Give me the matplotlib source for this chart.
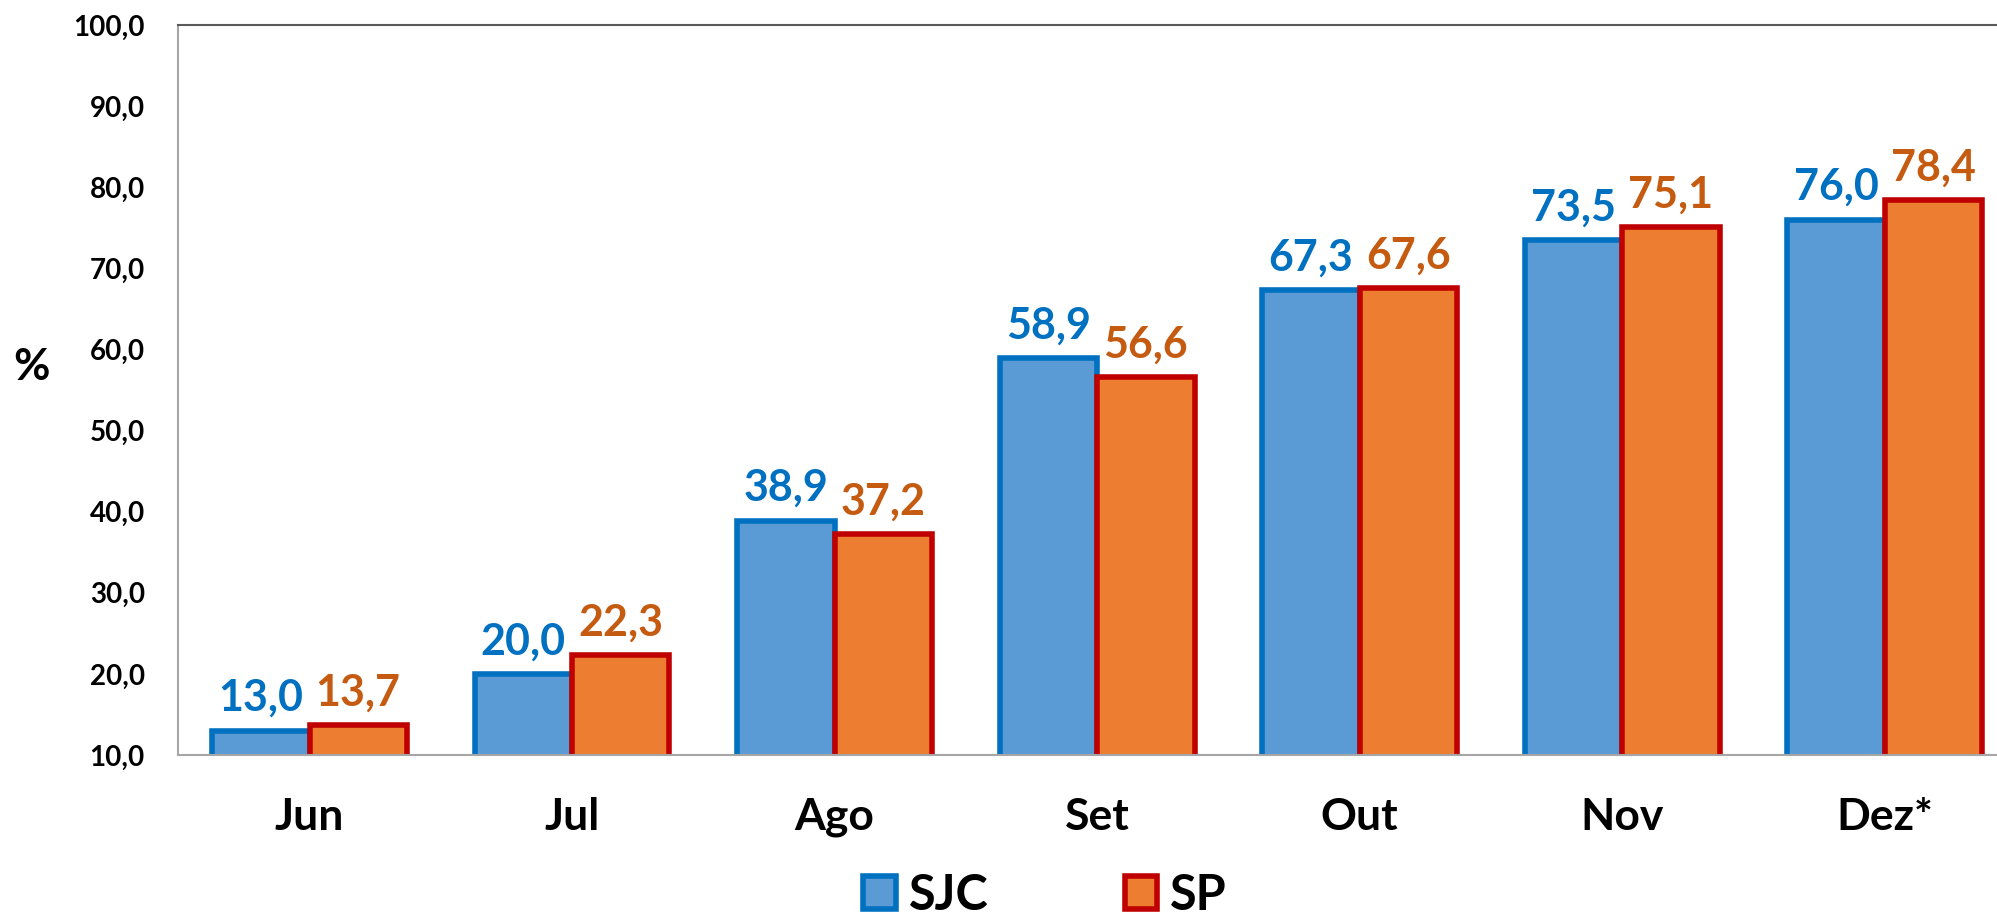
import numpy as np
import matplotlib
matplotlib.use('Agg')
import matplotlib.pyplot as plt

# data
meses = ['Jun', 'Jul', 'Ago', 'Set', 'Out', 'Nov', 'Dez*']
sjc = [13.0, 20.0, 38.9, 58.9, 67.3, 73.5, 76.0]
sp = [13.7, 22.3, 37.2, 56.6, 67.6, 75.1, 78.4]
yticks = np.arange(10, 101, 10)

plt.rcParams['font.family'] = ['Lato', 'DejaVu Sans']
plt.rcParams['font.weight'] = 'bold'

W, H = 1997, 917
fig = plt.figure(figsize=(W/100, H/100), dpi=100)
# plot area runs past the right edge of the picture, as in the original
ax = fig.add_axes([178.25/W, 1-755/H, (2016-178.25)/W, 730/H])

x = np.arange(len(meses))
bw = 0.371
b1 = ax.bar(x - bw/2, sjc, bw, bottom=0, color='#5B9BD5', edgecolor='#0070C0',
            linewidth=4, label='SJC', zorder=3)
b2 = ax.bar(x + bw/2, sp, bw, color='#ED7D31', edgecolor='#C00000',
            linewidth=4, label='SP', zorder=3)

fmt = lambda v: f'{v:.1f}'.replace('.', ',')
ax.bar_label(b1, labels=[fmt(v) for v in sjc], padding=9, color='#0070C0',
             fontsize=31, fontweight='bold')
ax.bar_label(b2, labels=[fmt(v) for v in sp], padding=9, color='#C55A11',
             fontsize=31, fontweight='bold')

ax.set_xlim(-0.5, len(meses) - 0.5)
ax.set_ylim(10, 100)
ax.set_yticks(yticks)
ax.set_yticklabels([fmt(v) for v in yticks], fontsize=20, fontweight='bold')
ax.set_xticks(x)
ax.set_xticklabels(meses, fontsize=32, fontweight='bold')
ax.tick_params(axis='y', length=0, pad=24)
ax.tick_params(axis='x', length=0, pad=30)

ax.spines['right'].set_visible(False)
ax.spines['left'].set_color('#A6A6A6')
ax.spines['bottom'].set_color('#A6A6A6')
ax.spines['top'].set_color('#595959')
for s in ['left', 'bottom', 'top']:
    ax.spines[s].set_linewidth(1.5)
ax.spines['bottom'].set_zorder(4)

fig.text(32/W, 1-367/H, '%', fontsize=32, fontweight='bold', ha='center', va='center')

fig.legend(handles=[b1, b2], loc='center', bbox_to_anchor=(1045/W, 1-895/H),
           ncol=2, frameon=False, fontsize=35, handlelength=0.66, handleheight=0.66,
           handletextpad=0.27, columnspacing=2.8, prop={'weight': 'bold', 'size': 35})

plt.savefig('out.png', dpi=100)
